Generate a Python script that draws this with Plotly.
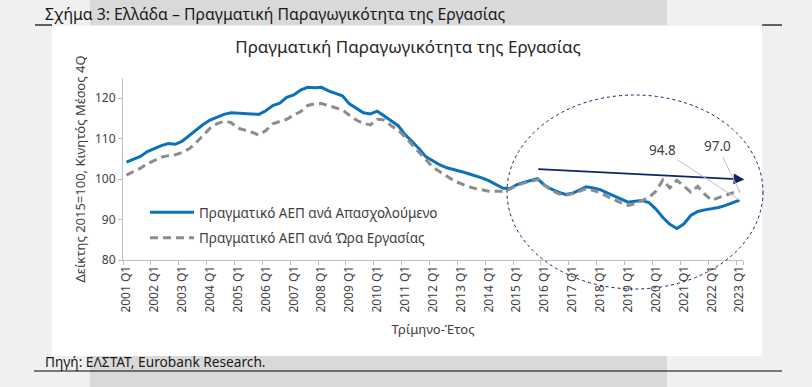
import plotly.graph_objects as go

# ---------------- data ----------------
years = list(range(2001, 2024))
quarters = [f"{y} Q{q}" for y in years for q in range(1, 5)][:89]   # 2001 Q1 .. 2023 Q1
tick_labels = [f"{y} Q1" for y in years]

per_employed = [
    104.2, 104.9, 105.6, 106.8, 107.6, 108.3, 108.8, 108.6, 109.4, 110.8,
    112.0, 113.5, 114.6, 115.3, 116.0, 116.4, 116.3, 116.1, 116.1, 116.0,
    116.9, 118.2, 118.8, 120.2, 120.8, 122.0, 122.7, 122.6, 122.7, 121.8,
    121.2, 120.6, 118.6, 117.4, 116.4, 116.1, 116.8, 115.6, 114.4, 113.2,
    111.0, 109.3, 107.5, 105.5, 104.4, 103.5, 102.8, 102.4, 101.9, 101.4,
    100.9, 100.3, 99.6, 98.8, 97.8, 97.6, 98.6, 99.2, 99.7, 100.1,
    98.5, 97.5, 96.8, 96.2, 96.5, 97.4, 98.1, 97.8, 97.4, 96.6,
    95.8, 95.0, 94.3, 94.5, 94.7, 94.2, 92.6, 90.5, 88.8, 87.8,
    88.9, 91.0, 92.0, 92.4, 92.7, 93.0, 93.5, 94.2, 94.8,
]
per_hour = [
    101.0, 101.8, 102.7, 103.8, 104.6, 105.4, 105.8, 106.0, 106.6, 107.5,
    109.0, 110.9, 112.6, 113.7, 114.3, 114.0, 112.6, 112.1, 111.6, 110.9,
    112.0, 113.7, 114.2, 114.8, 115.8, 116.7, 118.2, 118.6, 118.7, 118.2,
    117.6, 117.1, 115.8, 114.6, 113.8, 113.4, 114.8, 114.6, 113.2, 112.1,
    110.4, 108.5, 106.6, 104.7, 102.9, 101.8, 100.7, 99.6, 98.9, 98.2,
    97.7, 97.3, 97.0, 97.0, 97.0, 97.5, 98.4, 99.0, 99.5, 99.9,
    98.5, 97.2, 96.4, 96.0, 96.4, 97.0, 97.6, 97.2, 96.7, 95.7,
    94.9, 94.1, 93.5, 93.9, 94.7, 95.5, 97.0, 99.8, 97.8, 99.7,
    98.3, 96.8, 98.2, 96.3, 94.8, 95.4, 96.1, 96.6, 97.0,
]
series_names = ["Πραγματικό ΑΕΠ ανά Απασχολούμενο", "Πραγματικό ΑΕΠ ανά Ώρα Εργασίας"]
y_ticks = [80, 90, 100, 110, 120]
trend_arrow = {"x": [58.9, 88.7], "y": [102.5, 99.9]}

# ---------------- layout helpers ----------------
W, H = 812, 387
L, R, T, B = 123, 743, 78, 260
def px(x):
    return (x - L) / (R - L)
def py(y):
    return (B - y) / (B - T)

FONT = "Noto Sans"
TXT = "#404040"
BLUE = "#0b72b9"
GREY = "#8c8c8c"
NAVY = "#0f2466"

fig = go.Figure()
fig.add_trace(go.Scatter(x=quarters, y=per_employed, mode="lines", name=series_names[0],
                         line=dict(color=BLUE, width=3), legendgroup="a"))
fig.add_trace(go.Scatter(x=quarters, y=per_hour, mode="lines", name=series_names[1],
                         line=dict(color=GREY, width=3, dash="8px,5px"), legendgroup="b"))

shapes = [
    dict(type="rect", xref="paper", yref="paper", x0=px(52), x1=px(762), y0=py(356), y1=py(26),
         fillcolor="white", line_width=0, layer="below"),
    dict(type="rect", xref="paper", yref="paper", x0=px(90), x1=px(667), y0=py(25), y1=py(0),
         fillcolor="#d9d9d9", line_width=0, layer="below"),
    dict(type="rect", xref="paper", yref="paper", x0=px(90), x1=px(667), y0=py(387), y1=py(356),
         fillcolor="#d9d9d9", line_width=0, layer="below"),
    dict(type="line", xref="paper", yref="paper", x0=px(35), x1=px(52), y0=py(25), y1=py(25),
         line=dict(color="black", width=1.2)),
    dict(type="line", xref="paper", yref="paper", x0=px(762), x1=px(782), y0=py(25), y1=py(25),
         line=dict(color="black", width=1.2)),
    dict(type="line", xref="paper", yref="paper", x0=px(34), x1=px(782), y0=py(371), y1=py(371),
         line=dict(color="black", width=1.2)),
    dict(type="circle", xref="paper", yref="paper", x0=px(507), x1=px(763), y0=py(289), y1=py(95),
         line=dict(color=NAVY, width=1, dash="dot"), layer="above"),
]

annotations = [
    dict(xref="paper", yref="paper", x=px(43), y=py(14), xanchor="left", yanchor="middle",
         text="Σχήμα 3: Ελλάδα – Πραγματική Παραγωγικότητα της Εργασίας", showarrow=False,
         font=dict(family=FONT, size=15.8, color="#1a1a1a")),
    dict(xref="paper", yref="paper", x=px(43), y=py(361), xanchor="left", yanchor="middle",
         text="Πηγή: ΕΛΣΤΑΤ, Eurobank Research.", showarrow=False,
         font=dict(family=FONT, size=13.7, color="#1a1a1a")),
    dict(x=trend_arrow["x"][1], y=trend_arrow["y"][1], ax=trend_arrow["x"][0], ay=trend_arrow["y"][0],
         xref="x", yref="y", axref="x", ayref="y", text="", showarrow=True,
         arrowhead=2, arrowsize=1.2, arrowwidth=1.8, arrowcolor=NAVY),
    dict(x=len(quarters) - 1, y=per_employed[-1], xref="x", yref="y", text=f"{per_employed[-1]:.1f}",
         showarrow=True, arrowhead=0, arrowwidth=1, arrowcolor="#bfbfbf", ax=-77, ay=-50,
         font=dict(family=FONT, size=13.5, color=TXT)),
    dict(x=len(quarters) - 1, y=per_hour[-1], xref="x", yref="y", text=f"{per_hour[-1]:.1f}",
         showarrow=True, arrowhead=0, arrowwidth=1, arrowcolor="#bfbfbf", ax=-22, ay=-45,
         font=dict(family=FONT, size=13.5, color=TXT)),
]

fig.update_layout(
    width=W, height=H, autosize=False,
    margin=dict(l=L, r=W - R, t=T, b=H - B, pad=0),
    paper_bgcolor="#f0f0f0", plot_bgcolor="rgba(0,0,0,0)",
    font=dict(family=FONT, color=TXT, size=12),
    title=dict(text="Πραγματική Παραγωγικότητα της Εργασίας", x=408 / W, xanchor="center",
               y=1 - 47 / H, yanchor="middle", xref="container", yref="container",
               font=dict(family=FONT, size=17, color="#262626")),
    showlegend=True,
    legend=dict(x=px(145), y=py(197), xanchor="left", yanchor="top", bgcolor="rgba(0,0,0,0)",
                font=dict(family=FONT, size=13.5, color=TXT), tracegroupgap=5,
                traceorder="grouped", itemwidth=44),
    shapes=shapes,
    annotations=annotations,
    xaxis=dict(type="category", tickmode="array", tickvals=tick_labels, ticktext=tick_labels,
               tickson="boundaries", range=[-0.5, len(quarters) - 0.5], tickangle=-90,
               showline=True, linecolor="#bfbfbf", linewidth=1, ticks="outside", ticklen=4,
               tickcolor="#bfbfbf", showgrid=False, zeroline=False,
               tickfont=dict(family=FONT, size=12, color=TXT),
               title=dict(text="Τρίμηνο-Έτος", standoff=13, font=dict(family=FONT, size=13, color=TXT))),
    yaxis=dict(range=[80, 125], tickmode="array", tickvals=y_ticks, showline=True,
               linecolor="#bfbfbf", linewidth=1, ticks="outside", ticklen=4, tickcolor="#bfbfbf",
               showgrid=False, zeroline=False, tickfont=dict(family=FONT, size=12, color=TXT),
               title=dict(text="Δείκτης 2015=100, Κινητός Μέσος 4Q", standoff=6,
                          font=dict(family=FONT, size=13, color=TXT))),
)

fig.write_html("out.html", config={"displayModeBar": False},
               post_script="document.body.style.margin='0';document.body.style.overflow='hidden';"
                           "document.body.style.background='#f0f0f0';")
